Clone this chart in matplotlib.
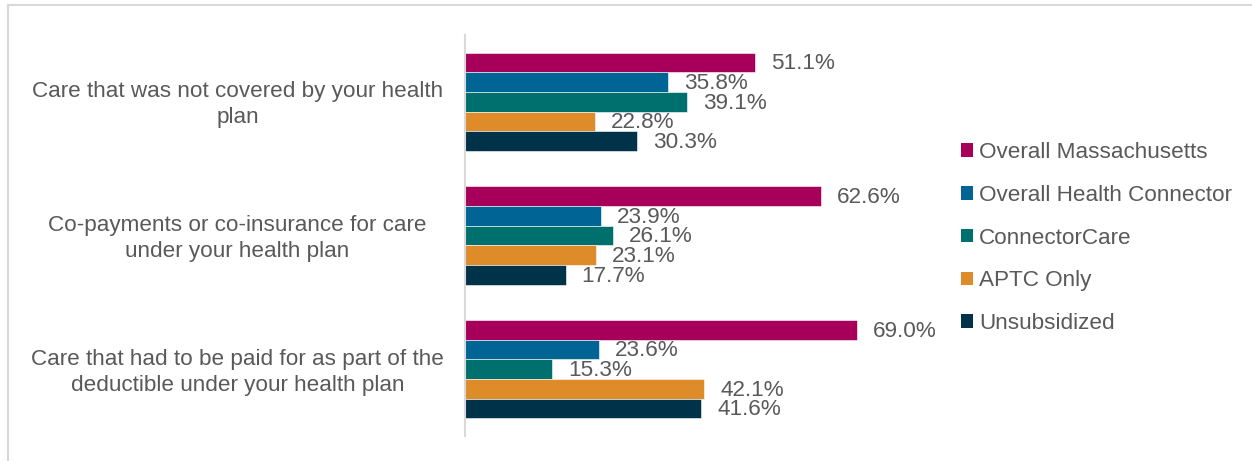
import numpy as np
import matplotlib
matplotlib.use("Agg")
import matplotlib.pyplot as plt
import matplotlib.transforms as mtransforms
from matplotlib.patches import Patch
from matplotlib.lines import Line2D

categories = [
    "Care that was not covered by your health\nplan",
    "Co-payments or co-insurance for care\nunder your health plan",
    "Care that had to be paid for as part of the\ndeductible under your health plan",
]
series = ["Overall Massachusetts", "Overall Health Connector", "ConnectorCare",
          "APTC Only", "Unsubsidized"]
values = {
    "Overall Massachusetts": [51.1, 62.6, 69.0],
    "Overall Health Connector": [35.8, 23.9, 23.6],
    "ConnectorCare": [39.1, 26.1, 15.3],
    "APTC Only": [22.8, 23.1, 42.1],
    "Unsubsidized": [30.3, 17.7, 41.6],
}
colors = ["#A6005A", "#006595", "#00706F", "#DE8B2A", "#003349"]

plt.rcParams['font.family'] = ['Liberation Sans', 'DejaVu Sans']
text_color = "#595959"
fs = 16.2

fig = plt.figure(figsize=(12.52, 4.61), dpi=100)
ax = fig.add_axes([0.3714, 0.054, 0.363, 0.870])

y = np.arange(len(categories))
h = 0.147
for i, s in enumerate(series):
    pos = y + (i - 2) * h
    bars = ax.barh(pos, values[s], height=h, color=colors[i],
                   edgecolor="white", linewidth=0.4)
    for b, v in zip(bars, values[s]):
        ax.text(v + 2.8, b.get_y() + h / 2 + 0.01, f"{v:.1f}%", va="center",
                ha="left", fontsize=fs, color=text_color)

ax.set_ylim(2.5, -0.5)
ax.set_xlim(0, 80)
ax.set_yticks(y)
ax.set_yticklabels(categories, fontsize=fs, color=text_color, ha="center",
                   multialignment="center", linespacing=1.3)
ax.tick_params(axis="y", length=0, pad=0)
ax.set_xticks([])
for sp in ["top", "right", "bottom"]:
    ax.spines[sp].set_visible(False)
ax.spines["left"].set_color("#D9D9D9")
ax.spines["left"].set_linewidth(1.5)

# center the multi-line labels at a fixed point left of the axis
offset = mtransforms.ScaledTranslation(-2.275, 0.02, fig.dpi_scale_trans)
for lab in ax.get_yticklabels():
    lab.set_transform(lab.get_transform() + offset)

handles = [Patch(facecolor=c, edgecolor="none") for c in colors]
fig.legend(handles, series, loc="center left", bbox_to_anchor=(0.751, 0.4836),
           frameon=False, fontsize=fs, labelcolor=text_color,
           handlelength=0.55, handleheight=0.55, handletextpad=0.27,
           labelspacing=0.965)

# outer frame (left and top)
fig.add_artist(Line2D([7.5 / 1252, 7.5 / 1252], [0, 1 - 5 / 461],
                      transform=fig.transFigure, color="#D9D9D9", lw=1.5))
fig.add_artist(Line2D([7.5 / 1252, 1], [1 - 5 / 461, 1 - 5 / 461],
                      transform=fig.transFigure, color="#D9D9D9", lw=1.5))

fig.savefig("out.png", dpi=100)
